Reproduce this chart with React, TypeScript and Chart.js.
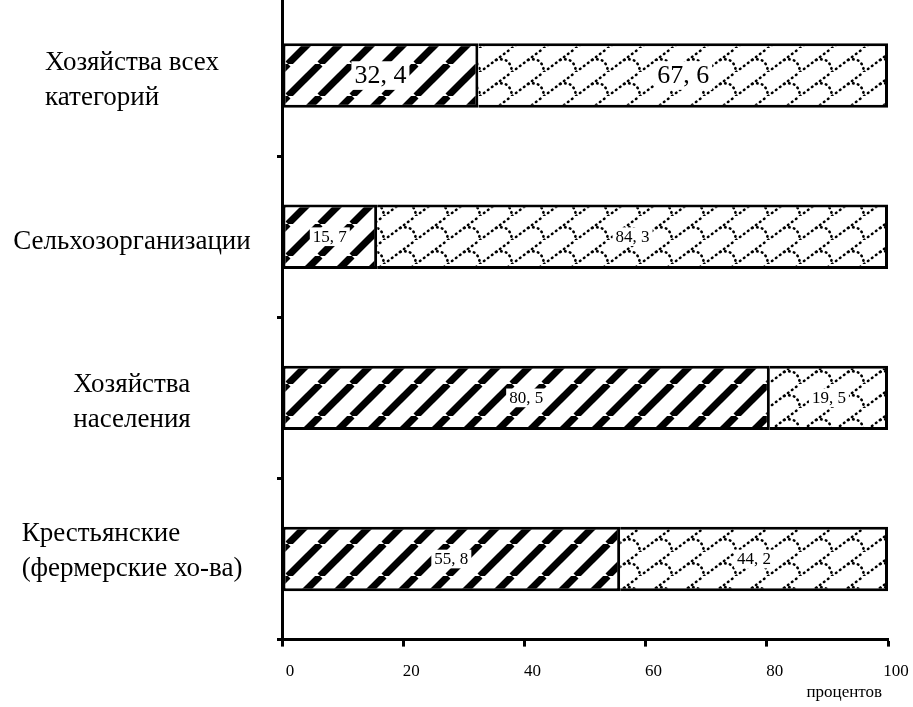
import React, { useEffect, useRef } from "react";
import { Chart, registerables } from "chart.js";

Chart.register(...registerables);

const categories: string[][] = [
  ["Хозяйства всех", "категорий"],
  ["Сельхозорганизации"],
  ["Хозяйства", "населения"],
  ["Крестьянские", "(фермерские хо-ва)"],
];
const seriesA: number[] = [32.4, 15.7, 80.5, 55.8];
const seriesB: number[] = [67.6, 84.3, 19.5, 44.2];
const xTicks: number[] = [0, 20, 40, 60, 80, 100];
const xAxisTitle = "процентов";

const SERIF = "'Liberation Serif', 'DejaVu Serif', serif";

function makeStripePattern(): CanvasPattern | string {
  const c = document.createElement("canvas");
  const s = 32;
  c.width = s;
  c.height = s;
  const g = c.getContext("2d");
  if (!g) return "#fff";
  g.fillStyle = "#fff";
  g.fillRect(0, 0, s, s);
  g.strokeStyle = "#000";
  g.lineWidth = 7;
  g.lineCap = "butt";
  for (const off of [-s, 0, s]) {
    g.beginPath();
    g.moveTo(off, s);
    g.lineTo(off + s, 0);
    g.stroke();
  }
  return g.createPattern(c, "repeat") || "#fff";
}

function makeScalePattern(): CanvasPattern | string {
  const c = document.createElement("canvas");
  const w = 32;
  const h = 24;
  c.width = w;
  c.height = h;
  const g = c.getContext("2d");
  if (!g) return "#fff";
  g.fillStyle = "#fff";
  g.fillRect(0, 0, w, h);
  g.strokeStyle = "#000";
  g.lineWidth = 2.6;
  g.lineCap = "round";
  g.setLineDash([0.5, 4.5]);
  for (const off of [-w, 0, w]) {
    g.beginPath();
    g.moveTo(off, h);
    g.lineTo(off + w, 0);
    g.stroke();
  }
  for (const [ox, oy] of [
    [0, 0],
    [-w, 0],
    [0, -h],
    [-w, -h],
    [w, -h],
    [0, h],
  ] as [number, number][]) {
    g.beginPath();
    g.moveTo(ox + w / 2, oy + h / 2);
    g.quadraticCurveTo(ox + w * 0.95, oy + h * 0.35, ox + w, oy + h);
    g.stroke();
  }
  return g.createPattern(c, "repeat") || "#fff";
}

// the vertical axis runs off the top edge of the picture
const extendYAxis = {
  id: "extendYAxis",
  afterLayout(chart: any) {
    const y = chart.scales.y;
    y.top = -5;
    y.height = y.bottom - y.top;
    y.configure();
  },
};

const valueLabels = {
  id: "valueLabels",
  afterDatasetsDraw(chart: any) {
    const ctx = chart.ctx;
    ctx.save();
    chart.data.datasets.forEach((ds: any, di: number) => {
      const meta = chart.getDatasetMeta(di);
      meta.data.forEach((bar: any, i: number) => {
        const v = ds.data[i] as number;
        const txt = v.toFixed(1).replace(".", ", ");
        const size = i === 0 ? 26 : 17;
        ctx.font = `${size}px ${SERIF}`;
        const cx = (bar.x + bar.base) / 2;
        const cy = bar.y;
        const tw = ctx.measureText(txt).width;
        ctx.fillStyle = "#fff";
        ctx.fillRect(cx - tw / 2 - 3, cy - size * 0.55, tw + 6, size * 1.1);
        ctx.fillStyle = "#000";
        ctx.textAlign = "center";
        ctx.textBaseline = "middle";
        ctx.fillText(txt, cx, cy + 1);
      });
    });
    ctx.restore();
  },
};

const categoryLabels = {
  id: "categoryLabels",
  afterDraw(chart: any) {
    const ctx = chart.ctx;
    const yScale = chart.scales.y;
    const size = 27;
    const lineH = 35;
    ctx.save();
    ctx.font = `${size}px ${SERIF}`;
    ctx.fillStyle = "#000";
    ctx.textAlign = "left";
    ctx.textBaseline = "middle";
    const blockCenter = 132;
    categories.forEach((lines, i) => {
      const yc = yScale.getPixelForValue(i) + (i === categories.length - 1 ? -8 : 5);
      const maxW = Math.max(...lines.map((l) => ctx.measureText(l).width));
      const x0 = Math.max(0, blockCenter - maxW / 2);
      lines.forEach((l, k) => {
        const y = yc + (k - (lines.length - 1) / 2) * lineH;
        ctx.fillText(l, x0, y);
      });
    });
    ctx.font = `17px ${SERIF}`;
    ctx.textAlign = "right";
    ctx.fillText(xAxisTitle, chart.chartArea.right - 6, chart.chartArea.bottom + 53);
    ctx.restore();
  },
};

export default function App() {
  const ref = useRef<HTMLCanvasElement | null>(null);
  useEffect(() => {
    if (!ref.current) return;
    const stripes = makeStripePattern();
    const scales = makeScalePattern();
    const chart = new Chart(ref.current, {
      type: "bar",
      data: {
        labels: categories,
        datasets: [
          {
            data: seriesA,
            backgroundColor: stripes as any,
            borderColor: "#000",
            borderWidth: 3,
            borderSkipped: false,
            barPercentage: 0.4,
            categoryPercentage: 1,
          },
          {
            data: seriesB,
            backgroundColor: scales as any,
            borderColor: "#000",
            borderWidth: { top: 3, bottom: 3, right: 3, left: 0 } as any,
            borderSkipped: false,
            barPercentage: 0.4,
            categoryPercentage: 1,
          },
        ],
      },
      options: {
        indexAxis: "y",
        animation: false,
        responsive: false,
        devicePixelRatio: 1,
        layout: { padding: { left: 277, right: 25, top: 0, bottom: 10 } },
        plugins: {
          legend: { display: false },
          tooltip: { enabled: false },
        },
        scales: {
          x: {
            stacked: true,
            min: 0,
            max: 100,
            afterBuildTicks: (axis: any) => {
              axis.ticks = xTicks.map((v) => ({ value: v }));
            },
            afterFit: (axis: any) => {
              axis.paddingRight = 0;
              axis.paddingLeft = 0;
            },
            ticks: {
              color: "#000",
              font: { family: SERIF, size: 17 },
              padding: 15,
              labelOffset: 8,
            },
            grid: {
              drawOnChartArea: false,
              drawTicks: true,
              tickLength: 7,
              tickWidth: 3,
              color: "#000",
            },
            border: { color: "#000", width: 3 },
          },
          y: {
            stacked: true,
            ticks: { display: false },
            grid: {
              drawOnChartArea: false,
              drawTicks: true,
              tickLength: 5,
              tickWidth: 3,
              color: "#000",
              offset: true,
            },
            border: { color: "#000", width: 3 },
          },
        },
      },
      plugins: [extendYAxis, valueLabels, categoryLabels],
    });
    return () => chart.destroy();
  }, []);
  return (
    <div style={{ position: "absolute", left: 0, top: 0, width: 913, height: 707, background: "#fff" }}>
      <canvas ref={ref} width={913} height={707} />
    </div>
  );
}
